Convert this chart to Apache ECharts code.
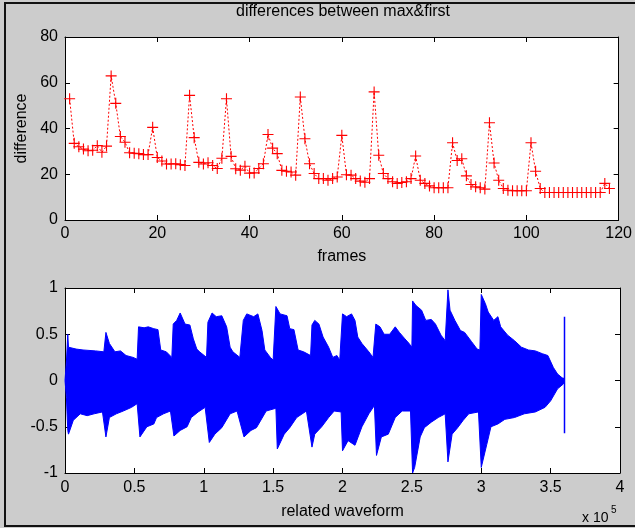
<!DOCTYPE html>
<html>
<head>
<meta charset="utf-8">
<script src="https://cdn.jsdelivr.net/npm/echarts@6/dist/echarts.min.js"></script>
<style>
  html, body { margin:0; padding:0; background:#cccccc; }
  #chart { width:635px; height:528px; }
</style>
</head>
<body>
<div id="chart"></div>
<script>
// top plot: difference per frame (frame = index + 1)
const diffs = [
  53, 33.5, 32, 31, 30.3, 30.5, 32.5, 29.6, 32.3, 63,
  51, 36.5, 34, 29.4, 29.2, 29, 28.6, 28.6, 40.5, 27.3,
  25.8, 24.5, 24.5, 24.6, 24.2, 23.8, 54.5, 36, 25.2, 24.5,
  25, 23.8, 22.5, 27, 53, 27.8, 22.4, 21.8, 23.5, 20.5,
  20.6, 22.5, 24.6, 37.4, 31.4, 29, 21.7, 21.3, 21, 19.6,
  53.8, 35.5, 24.6, 20.3, 18.1, 18.1, 17.4, 18.1, 18.8, 37,
  19.8, 19.6, 18.1, 17, 16.5, 18.1, 56, 28.3, 20.3, 18.1,
  16.7, 16, 16.4, 16.7, 18.1, 28, 17.4, 16, 14.9, 14.1,
  14.1, 14.1, 14.1, 33.8, 26, 26.8, 19.3, 15.5, 14.5, 14.1,
  13.5, 42.5, 24.9, 17.4, 13.8, 13, 12.8, 12.8, 12.8, 12.8,
  33.8, 21.3, 13.8, 12, 12, 12, 12, 12, 12, 12,
  12, 12, 12, 12, 12, 12, 16, 13.8
];

// bottom plot: waveform envelope (x in units of 1e5 samples)
const upX = [0, 0.01, 0.02, 0.025, 0.08, 0.13, 0.22, 0.28, 0.295, 0.32, 0.36, 0.4, 0.44, 0.49, 0.52, 0.53, 0.57, 0.6, 0.64, 0.67,
  0.69, 0.73, 0.77, 0.78, 0.805, 0.83, 0.865, 0.9, 0.925, 0.95, 0.97, 1.02, 1.03, 1.06, 1.09, 1.13, 1.165, 1.19, 1.21, 1.26,
  1.285, 1.31, 1.36, 1.39, 1.42, 1.44, 1.48, 1.5, 1.52, 1.55, 1.6, 1.62, 1.65, 1.68, 1.72, 1.77, 1.78, 1.8, 1.83, 1.86,
  1.9, 1.93, 1.96, 1.98, 2.0, 2.03, 2.065, 2.09, 2.11, 2.14, 2.19, 2.22, 2.24, 2.27, 2.3, 2.34, 2.38, 2.41, 2.45, 2.48,
  2.5, 2.505, 2.53, 2.57, 2.6, 2.64, 2.67, 2.71, 2.74, 2.76, 2.775, 2.81, 2.85, 2.88, 2.93, 2.97, 2.99, 3.0, 3.03, 3.05,
  3.09, 3.12, 3.14, 3.19, 3.24, 3.29, 3.34, 3.39, 3.44, 3.48, 3.52, 3.55, 3.59, 3.6];
const upY = [0, 0.2, 0.5, 0.36, 0.34, 0.33, 0.32, 0.31, 0.52, 0.4, 0.31, 0.32, 0.27, 0.25, 0.23, 0.58, 0.57, 0.58, 0.56, 0.55,
  0.33, 0.31, 0.25, 0.61, 0.65, 0.73, 0.61, 0.6, 0.45, 0.34, 0.31, 0.25, 0.63, 0.73, 0.69, 0.7, 0.58, 0.36, 0.31, 0.25,
  0.65, 0.72, 0.69, 0.72, 0.54, 0.33, 0.25, 0.22, 0.8, 0.72, 0.7, 0.56, 0.55, 0.33, 0.31, 0.27, 0.6, 0.65, 0.61, 0.47,
  0.36, 0.25, 0.27, 0.22, 0.72, 0.69, 0.72, 0.65, 0.47, 0.4, 0.31, 0.25, 0.61, 0.58, 0.5, 0.5, 0.58, 0.52, 0.45, 0.4,
  0.36, 0.86, 0.81, 0.76, 0.65, 0.66, 0.61, 0.49, 0.43, 0.98, 0.76, 0.65, 0.54, 0.52, 0.42, 0.34, 0.33, 0.93, 0.83, 0.74,
  0.65, 0.69, 0.58, 0.49, 0.43, 0.36, 0.33, 0.32, 0.29, 0.27, 0.14, 0.07, 0.02, 0];
const loX = [0, 0.01, 0.02, 0.025, 0.06, 0.11, 0.16, 0.21, 0.27, 0.295, 0.32, 0.37, 0.42, 0.48, 0.52, 0.54, 0.59, 0.64, 0.66, 0.71,
  0.76, 0.785, 0.83, 0.88, 0.91, 0.96, 1.01, 1.04, 1.08, 1.13, 1.19, 1.24, 1.29, 1.34, 1.38, 1.45, 1.52, 1.53, 1.58, 1.62,
  1.67, 1.74, 1.78, 1.8, 1.85, 1.9, 1.94, 1.99, 2.0, 2.04, 2.09, 2.14, 2.19, 2.23, 2.245, 2.28, 2.33, 2.38, 2.43, 2.49,
  2.505, 2.52, 2.56, 2.59, 2.64, 2.69, 2.74, 2.76, 2.79, 2.83, 2.87, 2.91, 2.98, 3.0, 3.04, 3.07, 3.12, 3.17, 3.24, 3.31,
  3.39, 3.46, 3.5, 3.55, 3.59, 3.6];
const loY = [0, -0.18, -0.54, -0.58, -0.43, -0.36, -0.38, -0.36, -0.34, -0.61, -0.4, -0.36, -0.33, -0.29, -0.25, -0.61, -0.5, -0.47, -0.4, -0.36,
  -0.33, -0.6, -0.54, -0.5, -0.4, -0.34, -0.29, -0.67, -0.58, -0.51, -0.36, -0.33, -0.61, -0.54, -0.51, -0.33, -0.3, -0.74, -0.58, -0.51,
  -0.4, -0.33, -0.72, -0.58, -0.5, -0.4, -0.33, -0.34, -0.76, -0.65, -0.7, -0.5, -0.36, -0.27, -0.81, -0.61, -0.58, -0.4, -0.33, -0.33,
  -1.0, -0.94, -0.61, -0.51, -0.45, -0.4, -0.36, -0.88, -0.58, -0.51, -0.43, -0.36, -0.34, -0.94, -0.69, -0.5, -0.47, -0.42, -0.4, -0.36,
  -0.34, -0.29, -0.22, -0.09, -0.04, 0];
// single click at the end of the waveform
const spikeX = 3.6, spikeTop = 0.69, spikeBottom = -0.57;

const FONT = 'Liberation Sans';
const PLUS = 'path://M4.5,0H5.5V4.5H10V5.5H5.5V10H4.5V5.5H0V4.5H4.5Z';

const chart = echarts.init(document.getElementById('chart'), null, {renderer: 'canvas'});

function axisBase(extra) {
  return Object.assign({
    type: 'value',
    axisLine: {show: true, onZero: false, lineStyle: {color: '#000', width: 1}},
    axisTick: {show: true, inside: true, length: 5, lineStyle: {color: '#000'}},
    axisLabel: {color: '#000', fontFamily: FONT, fontSize: 16},
    splitLine: {show: false}
  }, extra);
}
const noLabel = {show: false};
const nameStyle = {color: '#000', fontFamily: FONT, fontSize: 16};

const opt = {
  backgroundColor: '#cccccc',
  animation: false,
  grid: [
    {left: 65, top: 37, width: 555, height: 183, show: true, backgroundColor: '#fff', borderWidth: 0},
    {left: 65, top: 288, width: 555, height: 185, show: true, backgroundColor: '#fff', borderWidth: 0}
  ],
  xAxis: [
    axisBase({gridIndex: 0, min: 0, max: 120, interval: 20, name: 'frames', nameLocation: 'middle', nameGap: 29,
      nameTextStyle: nameStyle, axisLabel: {color: '#000', fontFamily: FONT, fontSize: 16, margin: 6}}),
    axisBase({gridIndex: 0, min: 0, max: 120, interval: 20, position: 'top', axisLabel: noLabel}),
    axisBase({gridIndex: 1, min: 0, max: 4, interval: 0.5, name: 'related waveform', nameLocation: 'middle', nameGap: 31,
      nameTextStyle: nameStyle, axisLabel: {color: '#000', fontFamily: FONT, fontSize: 16, margin: 7}}),
    axisBase({gridIndex: 1, min: 0, max: 4, interval: 0.5, position: 'top', axisLabel: noLabel})
  ],
  yAxis: [
    axisBase({gridIndex: 0, min: 0, max: 80, interval: 20, name: 'difference', nameLocation: 'middle', nameGap: 27,
      nameTextStyle: nameStyle, axisLabel: {color: '#000', fontFamily: FONT, fontSize: 16, margin: 7}}),
    axisBase({gridIndex: 0, min: 0, max: 80, interval: 20, position: 'right', axisLabel: noLabel}),
    axisBase({gridIndex: 1, min: -1, max: 1, interval: 0.5, axisLabel: {color: '#000', fontFamily: FONT, fontSize: 16, margin: 7}}),
    axisBase({gridIndex: 1, min: -1, max: 1, interval: 0.5, position: 'right', axisLabel: noLabel})
  ],
  series: [
    {
      type: 'line', xAxisIndex: 0, yAxisIndex: 0,
      data: diffs.map((v, i) => [i + 1, v]),
      symbol: PLUS, symbolSize: 11, showAllSymbol: true,
      itemStyle: {color: '#ff0000'},
      lineStyle: {color: '#ff0000', width: 1, type: [2, 2]}
    },
    {
      // upper envelope, filled a touch past zero so no seam shows
      type: 'line', xAxisIndex: 2, yAxisIndex: 2,
      data: upX.map((x, i) => [x, upY[i]]),
      showSymbol: false, lineStyle: {color: '#0000ff', width: 1},
      areaStyle: {color: '#0000ff', opacity: 1, origin: -0.03}
    },
    {
      type: 'line', xAxisIndex: 2, yAxisIndex: 2,
      data: loX.map((x, i) => [x, loY[i]]),
      showSymbol: false, lineStyle: {color: '#0000ff', width: 1},
      areaStyle: {color: '#0000ff', opacity: 1, origin: 0.03}
    },
    {
      type: 'line', xAxisIndex: 2, yAxisIndex: 2,
      data: [[spikeX, spikeTop], [spikeX, spikeBottom]],
      showSymbol: false, lineStyle: {color: '#0000ff', width: 1.5}
    }
  ],
  graphic: [
    {type: 'text', x: 343, y: 12, style: {text: 'differences between max&first', fill: '#000',
      font: '16px "Liberation Sans"', textAlign: 'center', textVerticalAlign: 'middle'}},
    {type: 'text', x: 582, y: 518, style: {text: 'x 10', fill: '#000',
      font: '14px "Liberation Sans"', textAlign: 'left', textVerticalAlign: 'middle'}},
    {type: 'text', x: 611, y: 510, style: {text: '5', fill: '#000',
      font: '10px "Liberation Sans"', textAlign: 'left', textVerticalAlign: 'middle'}},
    {type: 'rect', shape: {x: 5, y: 3, width: 660, height: 523}, style: {fill: 'none', stroke: '#111', lineWidth: 2}, silent: true}
  ]
};
chart.setOption(opt);
</script>
</body>
</html>
